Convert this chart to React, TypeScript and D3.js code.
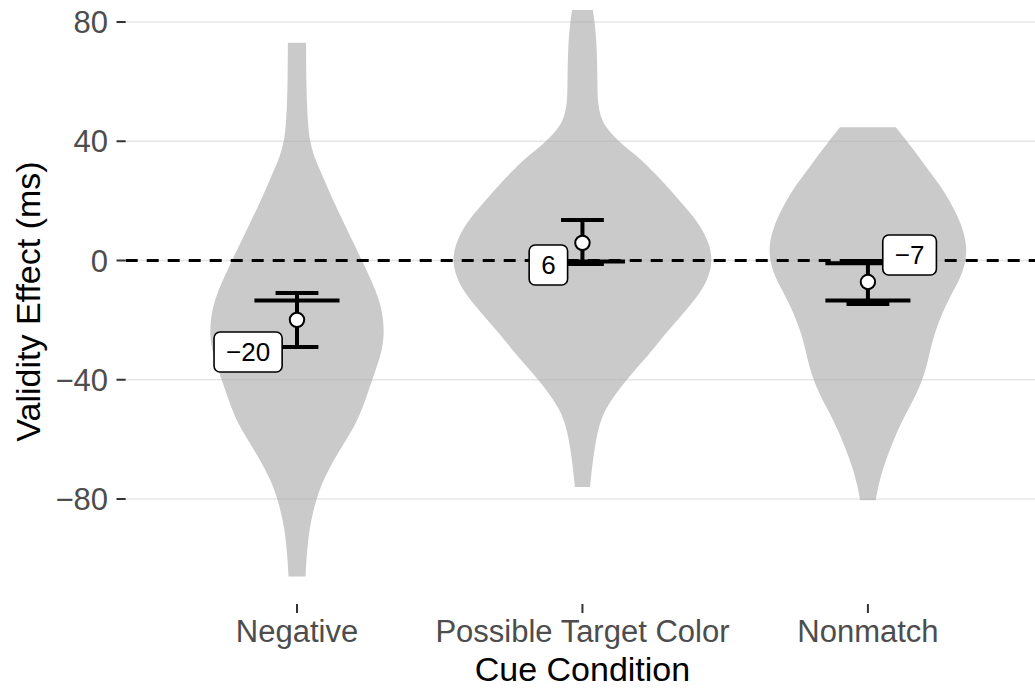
import { useMemo } from 'react'
import * as d3 from 'd3'

const categories = ['Negative', 'Possible Target Color', 'Nonmatch']
const yTicks = [80, 40, 0, -40, -80]
const gridValues = [80, 40, 0, -40, -80]

// violin outlines: value (ms) and relative density (1 = widest violin)
const negativeValues = [73, 65, 55, 45, 40, 35, 30, 25, 20, 15, 10, 5, 0, -5, -10, -15, -20, -25, -30, -35, -40, -45, -50, -55, -60, -65, -70, -75, -80, -85, -90, -95, -100, -106]
const negativeDensity = [0.07, 0.071, 0.074, 0.085, 0.1, 0.13, 0.18, 0.23, 0.28, 0.335, 0.39, 0.445, 0.5, 0.555, 0.605, 0.645, 0.665, 0.67, 0.655, 0.62, 0.58, 0.54, 0.5, 0.45, 0.38, 0.31, 0.245, 0.19, 0.15, 0.12, 0.097, 0.083, 0.073, 0.065]

const possibleValues = [84, 78, 70, 60, 53, 48, 44, 40, 37, 34, 30, 25, 20, 15, 10, 5, 0, -5, -10, -15, -20, -25, -30, -35, -40, -45, -50, -55, -60, -65, -70, -76]
const possibleDensity = [0.08, 0.1, 0.112, 0.115, 0.117, 0.14, 0.19, 0.28, 0.36, 0.45, 0.54, 0.65, 0.75, 0.85, 0.93, 0.98, 1.0, 0.975, 0.92, 0.83, 0.73, 0.63, 0.54, 0.44, 0.34, 0.25, 0.175, 0.13, 0.105, 0.087, 0.072, 0.058]

const nonmatchValues = [44.7, 40, 35, 30, 25, 20, 15, 10, 5, 0, -5, -10, -15, -20, -25, -30, -35, -40, -45, -50, -55, -60, -65, -70, -75, -80.4]
const nonmatchDensity = [0.215, 0.3, 0.39, 0.47, 0.56, 0.63, 0.69, 0.735, 0.76, 0.755, 0.72, 0.66, 0.6, 0.55, 0.51, 0.48, 0.455, 0.42, 0.37, 0.31, 0.25, 0.2, 0.155, 0.115, 0.083, 0.06]

const violinValues = [negativeValues, possibleValues, nonmatchValues]
const violinDensity = [negativeDensity, possibleDensity, nonmatchDensity]

// summary stats
const means = [-19.9, 5.9, -7.2]
const ciLower = [-29, -1.2, -14.6]
const ciUpper = [-10.9, 13.6, -0.2]
const wideBars = [[-13.4], [-0.3], [-0.9, -13.4]]

const labelText = ['\u221220', '6', '\u22127']
const labelValue = [-30.7, -1.5, 1.85]
const labelSide = ['left', 'left', 'right']

const width = 1035
const height = 691
const panel = { left: 125.7, right: 1039.2, top: 0, bottom: 603 }
const font = '"Liberation Sans", Arial, Helvetica, sans-serif'
const labelFontSize = 26

function measure(text: string, size: number) {
  const ctx = document.createElement('canvas').getContext('2d')
  if (!ctx) return text.length * size * 0.56
  ctx.font = `${size}px ${font}`
  return ctx.measureText(text).width
}

export default function App() {
  const x = d3.scalePoint<string>().domain(categories).range([panel.left, panel.right]).padding(0.6)
  const step = x.step()
  const y = d3.scaleLinear().domain([-80, 80]).range([499, 22])
  const w = d3.scaleLinear().domain([0, 1]).range([0, 0.455 * step])

  const violins = useMemo(
    () =>
      categories.map((cat, i) => {
        const cx = x(cat) as number
        const pts = violinValues[i].map((v, j) => ({ v, d: violinDensity[i][j] }))
        const area = d3
          .area<{ v: number; d: number }>()
          .y(p => y(p.v))
          .x0(p => cx - w(p.d))
          .x1(p => cx + w(p.d))
          .curve(d3.curveBasis)
        return area(pts) ?? ''
      }),
    []
  )

  const labelWidths = labelText.map(t => measure(t, labelFontSize))

  return (
    <svg
      width={width}
      height={height}
      style={{ position: 'absolute', left: 0, top: 0, background: '#fff' }}
      fontFamily={font}
    >
      <defs>
        <clipPath id="panel">
          <rect x={panel.left} y={panel.top} width={panel.right - panel.left} height={panel.bottom - panel.top} />
        </clipPath>
      </defs>
      <g clipPath="url(#panel)">
        {gridValues.map(v => (
          <line key={v} x1={panel.left} x2={panel.right} y1={y(v)} y2={y(v)} stroke="#e6e6e6" strokeWidth={1.6} />
        ))}
        {violins.map((d, i) => (
          <path key={i} d={d} fill="#a9a7a9" fillOpacity={0.6} />
        ))}
        <line
          x1={panel.left}
          x2={panel.right}
          y1={y(0)}
          y2={y(0)}
          stroke="#000"
          strokeWidth={3}
          strokeDasharray="12 9"
        />
        {categories.map((cat, i) => {
          const cx = x(cat) as number
          const nw = 0.075 * step
          const ww = 0.149 * step
          return (
            <g key={cat} stroke="#000" strokeWidth={4}>
              {wideBars[i].map(v => (
                <line key={v} x1={cx - ww} x2={cx + ww} y1={y(v)} y2={y(v)} />
              ))}
              <line x1={cx - nw} x2={cx + nw} y1={y(ciUpper[i])} y2={y(ciUpper[i])} />
              <line x1={cx - nw} x2={cx + nw} y1={y(ciLower[i])} y2={y(ciLower[i])} />
              <line x1={cx} x2={cx} y1={y(ciUpper[i])} y2={y(ciLower[i])} />
              <circle cx={cx} cy={y(means[i])} r={7.2} fill="#fff" strokeWidth={2} />
            </g>
          )
        })}
        {categories.map((cat, i) => {
          const cx = x(cat) as number
          const bw = labelWidths[i] + 24
          const bh = 40
          const left = labelSide[i] === 'left' ? cx - 0.052 * step - bw : cx + 0.052 * step
          const cy = y(labelValue[i])
          return (
            <g key={cat}>
              <rect x={left} y={cy - bh / 2} width={bw} height={bh} rx={6} fill="#fff" stroke="#000" strokeWidth={1.6} />
              <text x={left + bw / 2} y={cy + labelFontSize * 0.36} textAnchor="middle" fontSize={labelFontSize} fill="#000">
                {labelText[i]}
              </text>
            </g>
          )
        })}
      </g>

      {/* y axis */}
      {yTicks.map(v => (
        <g key={v}>
          <line x1={116.5} x2={panel.left} y1={y(v)} y2={y(v)} stroke="#333" strokeWidth={2} />
          <text x={108} y={y(v) + 11} textAnchor="end" fontSize={31} fill="#4d4d4d">
            {v < 0 ? `\u2212${Math.abs(v)}` : v}
          </text>
        </g>
      ))}
      <text
        transform={`translate(40, ${(panel.top + panel.bottom) / 2}) rotate(-90)`}
        textAnchor="middle"
        fontSize={34}
        fill="#000"
      >
        Validity Effect (ms)
      </text>

      {/* x axis */}
      {categories.map(cat => (
        <g key={cat}>
          <line x1={x(cat)} x2={x(cat)} y1={panel.bottom + 1} y2={panel.bottom + 10} stroke="#333" strokeWidth={2} />
          <text x={x(cat)} y={642} textAnchor="middle" fontSize={31} fill="#4d4d4d">
            {cat}
          </text>
        </g>
      ))}
      <text x={(panel.left + panel.right) / 2} y={681} textAnchor="middle" fontSize={34} fill="#000">
        Cue Condition
      </text>
    </svg>
  )
}
